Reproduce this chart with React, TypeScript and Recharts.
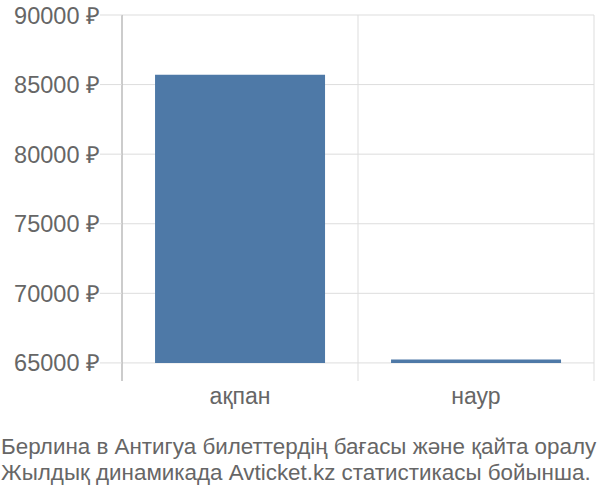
import React from 'react';
import { BarChart, Bar, XAxis, YAxis, CartesianGrid } from 'recharts';

const months = ['ақпан', 'наур'];
const prices = [85700, 65250];
const yTicks = [65000, 70000, 75000, 80000, 85000, 90000];
const yDomain: [number, number] = [63700, 90000];
const baseValue = 65000;
const captionLines = [
  'Берлина в Антигуа билеттердің бағасы және қайта оралу',
  'Жылдық динамикада Avticket.kz статистикасы бойынша.',
];

const data = months.map((m, i) => ({ month: m, price: prices[i] }));

const font = '"Liberation Sans", Arial, sans-serif';
const textColor = '#666';

export default function App() {
  return (
    <div style={{ position: 'absolute', left: 0, top: 0, width: 600, height: 500, fontFamily: font, background: '#fff' }}>
      <BarChart
        width={600}
        height={420}
        data={data}
        margin={{ top: 15, right: 6, left: 0, bottom: 0 }}
        barCategoryGap="14%"
      >
        <CartesianGrid
          stroke="#ddd"
          horizontalCoordinatesGenerator={({ offset }: any) =>
            yTicks.map((t) => offset.top + (offset.height * (yDomain[1] - t)) / (yDomain[1] - yDomain[0]))
          }
          verticalCoordinatesGenerator={({ offset }: any) => [
            offset.left,
            offset.left + offset.width / 2,
            offset.left + offset.width,
          ]}
        />
        <XAxis
          dataKey="month"
          axisLine={false}
          tickLine={false}
          height={39}
          tickMargin={1}
          tick={{ fontSize: 23, fill: textColor, fontFamily: font }}
        />
        <YAxis
          width={122}
          domain={yDomain}
          ticks={yTicks}
          allowDataOverflow
          tickFormatter={(v: number) => `${v} ₽`}
          axisLine={{ stroke: '#aaa' }}
          tickLine={{ stroke: '#ddd' }}
          tickSize={22}
          tickMargin={0}
          tick={{ fontSize: 23.5, fill: textColor, fontFamily: font }}
        />
        <Bar
          dataKey={(d: any) => [baseValue, d.price]}
          fill="#4e79a7"
          isAnimationActive={false}
        />
      </BarChart>
      <div style={{ position: 'absolute', left: 1, top: 434, fontSize: 22.4, lineHeight: '26px', color: textColor, whiteSpace: 'nowrap' }}>
        {captionLines.map((l) => (
          <div key={l}>{l}</div>
        ))}
      </div>
    </div>
  );
}
